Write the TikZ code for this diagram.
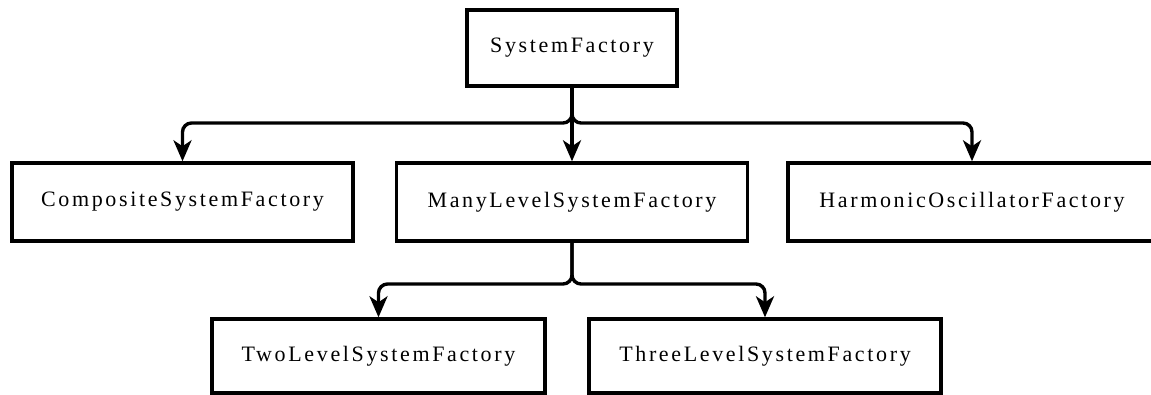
\documentclass[tikz,border=0pt]{standalone}
\usepackage{fontspec}
\setmainfont{Liberation Serif}[LetterSpace=12]
\usetikzlibrary{arrows.meta}

\begin{document}
\begin{tikzpicture}[x=1pt, y=-1pt,
    box/.style={draw, line width=3.4pt, inner sep=0pt, font=\fontsize{22}{26}\selectfont},
    arr/.style={line width=3.4pt, rounded corners=9pt, -{Stealth[length=21pt, width=18pt, inset=6pt]}}]
                \useasboundingbox (0,0) rectangle (1151,395);

                \node[box, minimum width=210pt, minimum height=76pt] (sf) at (572,48) {SystemFactory};
                \node[box, minimum width=341pt, minimum height=78pt] (comp) at (182.5,202) {CompositeSystemFactory};
                \node[box, minimum width=351pt, minimum height=78pt] (many) at (572,202) {ManyLevelSystemFactory};
                \node[box, minimum width=368pt, minimum height=78pt] (harm) at (972,202) {HarmonicOscillatorFactory};
                \node[box, minimum width=333pt, minimum height=74pt] (two) at (378.5,356) {TwoLevelSystemFactory};
                \node[box, minimum width=352pt, minimum height=74pt] (three) at (765,356) {ThreeLevelSystemFactory};

                \coordinate (jtop) at (572,123);
                \coordinate (jlow) at (572,284);

                \draw[arr] (sf.south) -- (jtop) -| (comp.north);
                \draw[arr] (sf.south) -- (jtop) -| (harm.north);
                \draw[arr] (sf.south) -- (many.north);
                \draw[arr] (many.south) -- (jlow) -| (two.north);
                \draw[arr] (many.south) -- (jlow) -| (three.north);
            \end{tikzpicture}
\end{document}
